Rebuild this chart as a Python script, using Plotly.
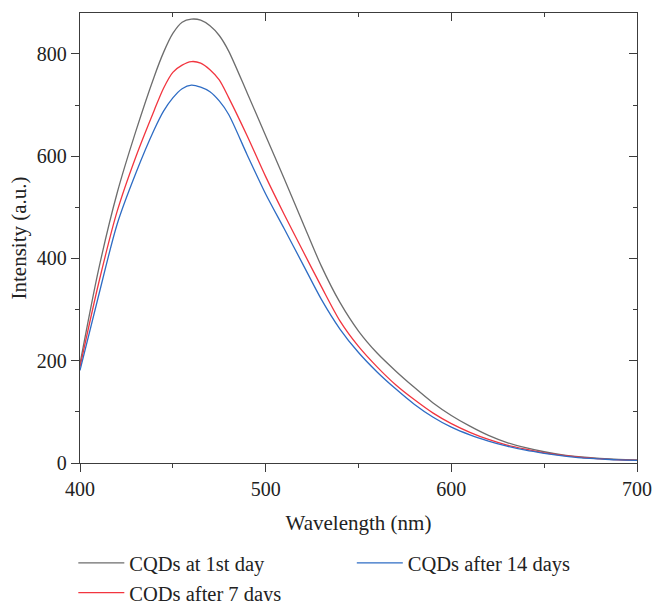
import plotly.graph_objects as go

wavelength = [400, 410, 420, 430, 440, 445, 450, 455, 460, 465, 470, 475, 480, 490, 500, 510,
              520, 530, 540, 550, 560, 570, 580, 590, 600, 610, 620, 630, 640, 650, 660, 670,
              680, 690, 700]
day1 = [194, 378, 528, 648, 756, 803, 840, 862, 868, 866, 855, 836, 806, 724, 640, 556,
        470, 385, 314, 258, 215, 180, 148, 118, 93, 72, 54, 40, 30, 22, 16, 12, 9, 7, 6]
day7 = [188, 351, 492, 598, 690, 733, 764, 778, 785, 782, 769, 749, 715, 640, 560, 486,
        415, 345, 278, 228, 188, 153, 124, 98, 77, 60, 46, 35, 27, 20, 15, 11, 8, 6, 5]
day14 = [181, 327, 467, 566, 652, 688, 714, 732, 739, 735, 726, 708, 682, 603, 526, 458,
         389, 320, 262, 216, 178, 145, 115, 90, 70, 55, 43, 33, 25, 19, 14, 10, 8, 6, 5]
names = ["CQDs at 1st day", "CQDs after 7 days", "CQDs after 14 days"]
colors = ["#6d6d6d", "#f2353f", "#2e6cc4"]

FONT = "Liberation Serif"
AX = "#3c3c3c"

fig = go.Figure()
series = [day1, day7, day14]
legends = ["legend", "legend", "legend2"]
for s, n, c, lg in zip(series, names, colors, legends):
    fig.add_trace(go.Scatter(x=wavelength, y=s, name=n, mode="lines",
                             line=dict(color=c, width=1.3, shape="spline", smoothing=0.8),
                             legend=lg))

# invisible trace to carry mirrored axes
fig.add_trace(go.Scatter(x=wavelength, y=day1, xaxis="x2", yaxis="y2", mode="lines",
                         line=dict(width=0), opacity=0, showlegend=False, hoverinfo="skip"))

common = dict(tickwidth=1.3, tickcolor=AX, showline=True, linecolor=AX, linewidth=1.3,
              showgrid=False, zeroline=False, automargin=False)
tickfont = dict(family=FONT, size=20, color="#222")

fig.update_layout(
    width=655, height=601,
    margin=dict(l=79.5, r=17.5, t=13.3, b=138.3, autoexpand=False),
    paper_bgcolor="white", plot_bgcolor="white",
    font=dict(family=FONT, size=17.6, color="#222"),
    xaxis=dict(range=[400, 700], dtick=100, tick0=400, ticks="outside", ticklen=8,
               tickfont=tickfont,
               title=dict(text="Wavelength (nm)", standoff=16),
               minor=dict(dtick=50, ticks="outside", ticklen=4, tickcolor=AX, tickwidth=1.3),
               **common),
    yaxis=dict(range=[0, 880], dtick=200, tick0=0, ticks="outside", ticklen=8,
               tickfont=tickfont,
               title=dict(text="Intensity (a.u.)", standoff=4),
               minor=dict(dtick=100, ticks="outside", ticklen=4, tickcolor=AX, tickwidth=1.3),
               **common),
    xaxis2=dict(range=[400, 700], overlaying="x", side="top", anchor="y", dtick=100, tick0=400,
                ticks="inside", ticklen=8, showticklabels=False,
                minor=dict(dtick=50, ticks="inside", ticklen=4, tickcolor=AX, tickwidth=1.3),
                **common),
    yaxis2=dict(range=[0, 880], overlaying="y", side="right", anchor="x", dtick=200, tick0=0,
                ticks="inside", ticklen=8, showticklabels=False,
                minor=dict(dtick=100, ticks="inside", ticklen=4, tickcolor=AX, tickwidth=1.3),
                **common),
    legend=dict(x=-0.012, y=-0.178, xanchor="left", yanchor="top", orientation="v",
                font=dict(family=FONT, size=20.5), bgcolor="rgba(0,0,0,0)", tracegroupgap=0,
                itemwidth=46),
    legend2=dict(x=0.488, y=-0.178, xanchor="left", yanchor="top", orientation="v",
                 font=dict(family=FONT, size=20.5), bgcolor="rgba(0,0,0,0)", itemwidth=46),
    showlegend=True,
)

fig.write_html("out.html", config={"displayModeBar": False},
               post_script="document.body.style.margin='0';document.body.style.overflow='hidden';")
